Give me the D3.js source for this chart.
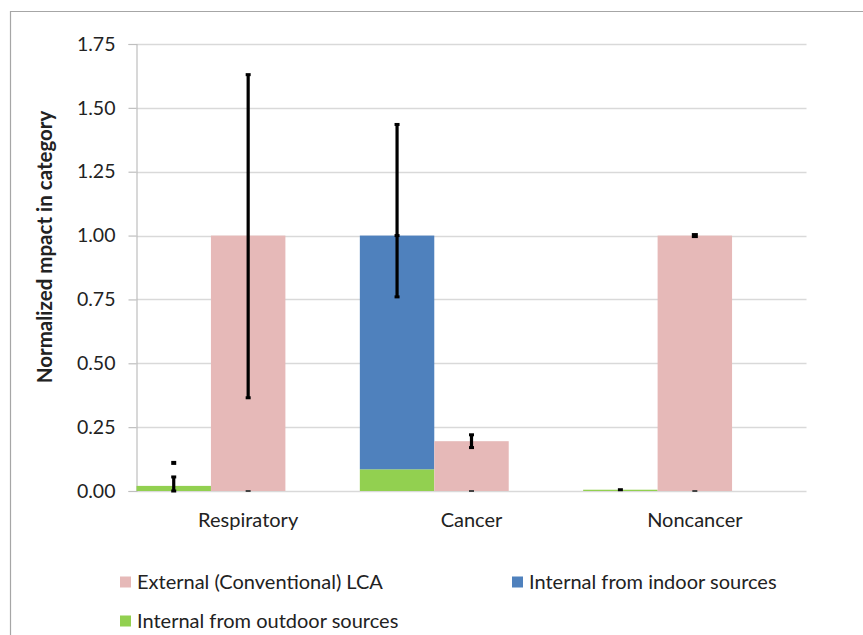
<!DOCTYPE html>
<html>
<head>
<meta charset="utf-8">
<script src="https://cdn.jsdelivr.net/npm/d3@7/dist/d3.min.js"></script>
<style>
  html, body { margin: 0; padding: 0; background: #fff; }
  svg { display: block; }
  text { font-family: Lato, "Liberation Sans", sans-serif; fill: #222; }
</style>
</head>
<body>
<svg id="chart" width="863" height="635"></svg>
<script>
// Normalized impact per category, split into internal (indoor / outdoor) and external LCA parts
const categories = ["Respiratory", "Cancer", "Noncancer"];
const outdoor = [0.02, 0.085, 0.005];
const indoor = [0, 0.915, 0];
const external = [1.00, 0.195, 1.00];

// Error bar ranges
const internalErrLow = [0, 0.76, 0.005];
const internalErrHigh = [0.055, 1.435, 0.005];
const internalErrMid = [null, 1.00, null];
const internalOutlier = [0.11, null, null];
const externalErrLow = [0.365, 0.17, 1.00];
const externalErrHigh = [1.63, 0.22, 1.00];
const baselineSeries = [0, 0, 0];

const yTicks = [0, 0.25, 0.5, 0.75, 1.0, 1.25, 1.5, 1.75];
const legendItems = [
  { label: "External (Conventional) LCA", color: "#E6B9B8" },
  { label: "Internal from indoor sources", color: "#4F81BD" },
  { label: "Internal from outdoor sources", color: "#92D050" }
];
const colors = { external: "#E6B9B8", indoor: "#4F81BD", outdoor: "#92D050" };

const svg = d3.select("#chart");

// outer frame
svg.append("path")
  .attr("d", "M10.5,640 L10.5,11.5 L870,11.5")
  .attr("fill", "none").attr("stroke", "#a6a6a6").attr("stroke-width", 1.2);

const plot = { left: 136.5, right: 806.5, top: 44, bottom: 491 };

const y = d3.scaleLinear().domain([0, 1.75]).range([plot.bottom, plot.top]);
const x = d3.scaleBand().domain(categories).range([plot.left, plot.right]).padding(0);
const slot = d3.scaleBand().domain(["internal", "external", "spare"]).range([0, x.bandwidth()]).padding(0);

// gridlines
svg.append("g")
  .selectAll("line").data(yTicks).join("line")
  .attr("x1", plot.left).attr("x2", plot.right)
  .attr("y1", d => Math.round(y(d)) + 0.5).attr("y2", d => Math.round(y(d)) + 0.5)
  .attr("stroke", "#d9d9d9").attr("stroke-width", 1.5);

// y axis
const yAxis = d3.axisLeft(y).tickValues(yTicks).tickFormat(d3.format(".2f")).tickSize(8).tickPadding(13);
const gy = svg.append("g").attr("transform", `translate(${plot.left},0)`).call(yAxis);
gy.select(".domain").attr("stroke", "#bfbfbf").attr("stroke-width", 1.2);
gy.selectAll(".tick line").attr("stroke", "#bfbfbf").attr("stroke-width", 1.2);
gy.selectAll(".tick text").style("font-size", "19.5px").attr("fill", "#222");

// y axis title
svg.append("text")
  .attr("transform", "translate(52,247) rotate(-90)")
  .attr("text-anchor", "middle")
  .style("font-size", "20.5px").style("font-weight", "bold")
  .text("Normalized mpact in category");

// bars
const barG = svg.append("g");
categories.forEach((c, i) => {
  const x0 = x(c);
  const sx = x0 + slot("internal");
  const ex = x0 + slot("external");
  const w = slot.bandwidth();
  barG.append("rect").attr("x", sx).attr("width", w)
    .attr("y", y(outdoor[i])).attr("height", y(0) - y(outdoor[i]))
    .attr("fill", colors.outdoor);
  if (indoor[i] > 0) {
    barG.append("rect").attr("x", sx).attr("width", w)
      .attr("y", y(outdoor[i] + indoor[i])).attr("height", y(outdoor[i]) - y(outdoor[i] + indoor[i]))
      .attr("fill", colors.indoor);
  }
  barG.append("rect").attr("x", ex).attr("width", w)
    .attr("y", y(external[i])).attr("height", y(0) - y(external[i]))
    .attr("fill", colors.external);
});

// error bars
const errG = svg.append("g");
function cap(cx, v, wd, ht, col) {
  errG.append("rect").attr("x", cx - wd / 2).attr("y", y(v) - ht / 2)
    .attr("width", wd).attr("height", ht).attr("fill", col || "#000");
}
function errBar(cx, lo, hi) {
  errG.append("line").attr("x1", cx).attr("x2", cx)
    .attr("y1", y(lo)).attr("y2", y(hi))
    .attr("stroke", "#000").attr("stroke-width", 3.2);
  cap(cx, lo, 5, 3);
  cap(cx, hi, 5, 3);
}
categories.forEach((c, i) => {
  const icx = x(c) + slot("internal") + slot.bandwidth() / 2;
  const ecx = x(c) + slot("external") + slot.bandwidth() / 2;
  if (internalErrHigh[i] > internalErrLow[i]) errBar(icx, internalErrLow[i], internalErrHigh[i]);
  else cap(icx, internalErrLow[i], 5, 3);
  if (internalErrMid[i] != null) cap(icx, internalErrMid[i], 5, 3);
  if (internalOutlier[i] != null) cap(icx, internalOutlier[i], 5, 4);
  if (externalErrHigh[i] > externalErrLow[i]) errBar(ecx, externalErrLow[i], externalErrHigh[i]);
  else cap(ecx, externalErrLow[i], 6, 5);
  cap(ecx, baselineSeries[i], 5, 2, "#444");
});

// category labels
svg.append("g").selectAll("text").data(categories).join("text")
  .attr("x", d => x(d) + x.bandwidth() / 2)
  .attr("y", 527)
  .attr("text-anchor", "middle")
  .style("font-size", "20px")
  .text(d => d);

// legend
const legendPos = [[120, 582], [512, 582], [120, 621]];
const lg = svg.append("g").selectAll("g").data(legendItems).join("g")
  .attr("transform", (d, i) => `translate(${legendPos[i][0]},${legendPos[i][1]})`);
lg.append("rect").attr("x", 0).attr("y", -5.5).attr("width", 11).attr("height", 11).attr("fill", d => d.color);
lg.append("text").attr("x", 17).attr("y", 7).style("font-size", "20px").text(d => d.label);
</script>
</body>
</html>
